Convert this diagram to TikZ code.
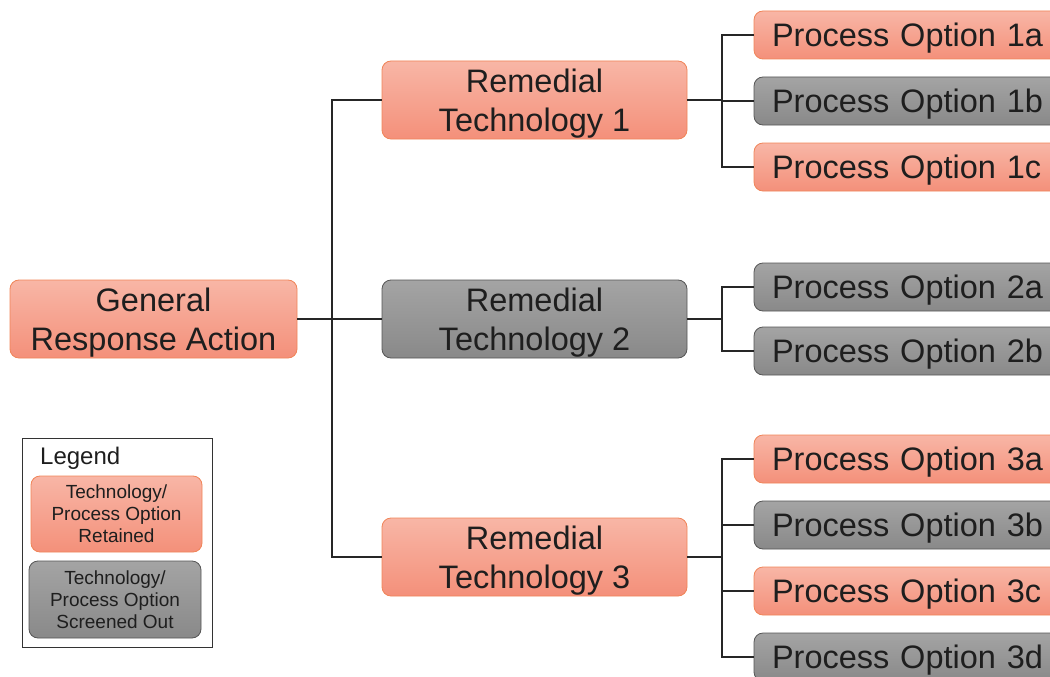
\documentclass[tikz,border=0pt]{standalone}
\usepackage{fontspec}
\setmainfont{Liberation Sans}
\definecolor{salmonTop}{HTML}{F8B6A6}
\definecolor{salmonBot}{HTML}{F4907A}
\definecolor{salmonEdge}{HTML}{F08458}
\definecolor{greyTop}{HTML}{A4A4A4}
\definecolor{greyBot}{HTML}{898989}
\definecolor{greyEdge}{HTML}{555555}
\definecolor{ink}{HTML}{1E1E1E}
\tikzset{
  box/.style={rounded corners=9pt, line width=0.8pt, text=ink, inner sep=0pt, align=center, text depth=0pt},
  retained/.style={box, draw=salmonEdge, top color=salmonTop, bottom color=salmonBot},
  screened/.style={box, draw=greyEdge, top color=greyTop, bottom color=greyBot},
  bigtext/.style={font=\fontsize{32.5}{39}\selectfont},
  legtext/.style={font=\fontsize{19}{22}\selectfont},
  techbox/.style={bigtext, minimum width=305pt, minimum height=78pt},
  optbox/.style={bigtext, text width=300pt, align=left, inner xsep=18pt, minimum height=48pt},
  link/.style={line width=1.6pt, draw=black!85}
}
\begin{document}
\begin{tikzpicture}[x=1pt, y=-1pt]
\useasboundingbox (0,0) rectangle (1050,677);
\clip (0,0) rectangle (1050,677);

% general response action
\node[retained, bigtext, minimum width=287pt, minimum height=78pt] (gra) at (153.5,319) {General\\Response Action};

% remedial technologies
\node[retained, techbox] (rt1) at (534.5,100) {Remedial\\Technology 1};
\node[screened, techbox] (rt2) at (534.5,319) {Remedial\\Technology 2};
\node[retained, techbox] (rt3) at (534.5,557) {Remedial\\Technology 3};

% process options
\node[retained, optbox] (po1a) at (922,35)  {Process Option 1a};
\node[screened, optbox] (po1b) at (922,101) {Process Option 1b};
\node[retained, optbox] (po1c) at (922,167) {Process Option 1c};
\node[screened, optbox] (po2a) at (922,287) {Process Option 2a};
\node[screened, optbox] (po2b) at (922,351) {Process Option 2b};
\node[retained, optbox] (po3a) at (922,459) {Process Option 3a};
\node[screened, optbox] (po3b) at (922,525) {Process Option 3b};
\node[retained, optbox] (po3c) at (922,591) {Process Option 3c};
\node[screened, optbox] (po3d) at (922,657) {Process Option 3d};

% junctions
\coordinate (j0) at (332,319);
\coordinate (j1) at (722,100);
\coordinate (j2) at (722,319);
\coordinate (j3) at (722,557);

% connectors
\draw[link] (gra.east) -- (j0);
\draw[link] (rt1.west) -| (j0);
\draw[link] (rt2.west) -- (j0);
\draw[link] (rt3.west) -| (j0);

\draw[link] (rt1.east) -- (j1);
\foreach \p in {po1a,po1b,po1c} \draw[link] (\p.west) -| (j1);
\draw[link] (rt2.east) -- (j2);
\foreach \p in {po2a,po2b} \draw[link] (\p.west) -| (j2);
\draw[link] (rt3.east) -- (j3);
\foreach \p in {po3a,po3b,po3c,po3d} \draw[link] (\p.west) -| (j3);

% legend
\node[draw=black!80, line width=1pt, minimum width=190pt, minimum height=209pt, inner sep=0pt] (legend) at (117,542.5) {};
\node[anchor=west, text=ink, font=\fontsize{24}{28}\selectfont, inner sep=0pt] (legtitle) at (40,458) {Legend};
\node[retained, legtext, minimum width=171pt, minimum height=76pt] (legret) at (116.5,514) {Technology/\\Process Option\\Retained};
\node[screened, legtext, minimum width=172pt, minimum height=77pt] (legscr) at (115,599.5) {Technology/\\Process Option\\Screened Out};
\end{tikzpicture}
\end{document}
